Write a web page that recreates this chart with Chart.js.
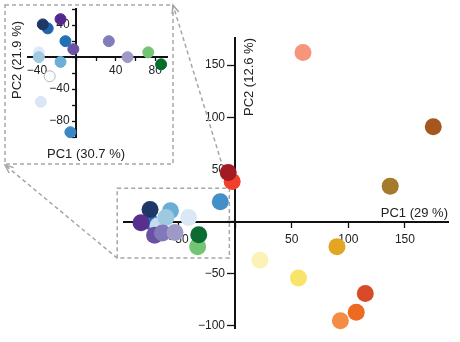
<!DOCTYPE html>
<html>
<head>
<meta charset="utf-8">
<script src="https://cdn.jsdelivr.net/npm/chart.js@4"></script>
<style>
  html, body { margin: 0; padding: 0; background: #fff; }
  #wrap { position: relative; width: 460px; height: 342px; }
  canvas { position: absolute; left: 0; top: 0; }
</style>
</head>
<body>
<div id="wrap">
  <canvas id="mainChart" width="460" height="342" style="width:460px;height:342px"></canvas>
  <canvas id="insetChart" width="180" height="170" style="width:180px;height:170px"></canvas>
</div>
<script>
// MAIN PCA - all samples (draw order = array order)
const mainPC1 = [60, 175, 137, -13, -2.5, -6, 90, 22, 56, 115, 107, 93,
  -75, -75, -83, -57, -68, -61, -41, -71, -64, -53, -33, -32];
const mainPC2 = [162, 91, 34, 19, 38.5, 47, -24, -37, -54, -69, -87, -95,
  0, 11.5, -1, 10.5, -4, 4, 4, -13, -11, -10.5, -24, -12.5];
const mainColors = ["#f6957b", "#a5571f", "#a57a2a", "#4390c8", "#f0402a", "#a31a22",
  "#e3a623", "#fbf2b8", "#f9e46a", "#d84b28", "#ec6a22", "#f58c45",
  "#2a6db2", "#1f3668", "#57308f", "#6aaed6", "#c6dbef", "#9ecae1", "#dae8f5",
  "#6b51a3", "#8179ba", "#9e9ac8", "#74c476", "#0b6b30"];

// INSET PCA - cluster only
const insetPC1 = [-29, -34, -16, -11, -3, 33, -38, -38, -16, -27, -36, -6, 52, 73, 86];
const insetPC2 = [36, 41, 47.5, 20, 10, 20, 6, 0, -6, -24, -56, -94, 0, 6, -9];
const insetColors = ["#1f63a8", "#1f3668", "#54278f", "#2171b5", "#6a51a3", "#807dba",
  "#deebf7", "#9ecae1", "#6baed6", "#fbfdff", "#d8e6f5", "#3a87c4", "#9e9ac8", "#74c476", "#006d2c"];
const insetBorders = insetColors.map(c => c === "#fbfdff" ? "#b8b8b8" : c);

// axis titles
const mainTitles = ["PC1 (29 %)", "PC2 (12.6 %)"];
const insetTitles = ["PC1 (30.7 %)", "PC2 (21.9 %)"];

// region of the main plot shown in the inset (PC1 / PC2 units)
const zoomBox = { pc1: [-104, -5], pc2: [-35, 32] };

Chart.defaults.font.family = '"Liberation Sans", Arial, sans-serif';
Chart.defaults.font.size = 12;
Chart.defaults.color = "#222";

function toPoints(xs, ys) {
  return xs.map((x, i) => ({ x: x, y: ys[i] }));
}

function fmt(every, pad) {
  return function (v) {
    if (v === 0 || v % every !== 0) return "";
    return String(v).replace("-", "\u2212") + pad;
  };
}

// axis crossing at the origin, ticks only, no grid
function crossAxis(min, max, step, label, cross, tickLen, pad) {
  return {
    type: "linear",
    min: min,
    max: max,
    position: cross,
    grid: { display: true, drawOnChartArea: false, drawTicks: true, tickLength: tickLen, tickColor: "#111", tickWidth: 1.3 },
    border: { display: true, color: "#111", width: 2 },
    ticks: { stepSize: step, includeBounds: false, autoSkip: false, maxRotation: 0, padding: pad, callback: label }
  };
}

const axisTitles = {
  id: "axisTitles",
  afterDraw(chart, args, opts) {
    const ctx = chart.ctx;
    ctx.save();
    ctx.font = '13px "Liberation Sans", Arial, sans-serif';
    ctx.fillStyle = "#222";
    opts.items.forEach(t => {
      ctx.save();
      ctx.translate(t.x, t.y);
      if (t.rotate) ctx.rotate(t.rotate);
      ctx.textAlign = t.align || "center";
      ctx.textBaseline = "middle";
      ctx.fillText(t.text, 0, 0);
      ctx.restore();
    });
    ctx.restore();
  }
};

function arrow(ctx, x0, y0, x1, y1) {
  ctx.setLineDash([4, 3]);
  ctx.beginPath();
  ctx.moveTo(x0, y0);
  ctx.lineTo(x1, y1);
  ctx.stroke();
  ctx.setLineDash([]);
  const a = Math.atan2(y1 - y0, x1 - x0);
  const len = 9;
  ctx.beginPath();
  ctx.moveTo(x1 - len * Math.cos(a - 0.4), y1 - len * Math.sin(a - 0.4));
  ctx.lineTo(x1, y1);
  ctx.lineTo(x1 - len * Math.cos(a + 0.4), y1 - len * Math.sin(a + 0.4));
  ctx.stroke();
}

// dashed zoom box, inset frame and connecting arrows
const zoomDecor = {
  id: "zoomDecor",
  beforeDatasetsDraw(chart) {
    const { ctx, scales } = chart;
    const l = scales.x.getPixelForValue(zoomBox.pc1[0]);
    const r = scales.x.getPixelForValue(zoomBox.pc1[1]);
    const t = scales.y.getPixelForValue(zoomBox.pc2[1]);
    const b = scales.y.getPixelForValue(zoomBox.pc2[0]);
    ctx.save();
    ctx.strokeStyle = "#a6a6a6";
    ctx.lineWidth = 1.5;
    ctx.setLineDash([4, 3]);
    ctx.strokeRect(l, t, r - l, b - t);
    ctx.strokeRect(5, 5, 168, 159);
    arrow(ctx, r, t, 173, 5);
    arrow(ctx, l, b, 5, 165);
    ctx.restore();
  }
};

new Chart(document.getElementById("mainChart"), {
  type: "scatter",
  data: {
    datasets: [{
      data: toPoints(mainPC1, mainPC2),
      backgroundColor: mainColors,
      borderColor: mainColors,
      borderWidth: 0,
      pointRadius: 8.5,
      pointHoverRadius: 8.5
    }]
  },
  plugins: [zoomDecor, axisTitles],
  options: {
    responsive: false,
    animation: false,
    events: [],
    clip: false,
    layout: { padding: { left: 124, right: 12, top: 38, bottom: 14 } },
    scales: {
      x: crossAxis(-98, 188, 50, fmt(50, ""), { y: 0 }, 5, 6),
      y: crossAxis(-102, 176, 50, fmt(50, "   "), { x: 0 }, 7, 2)
    },
    plugins: {
      legend: { display: false },
      tooltip: { enabled: false },
      axisTitles: {
        items: [
          { text: mainTitles[0], x: 448, y: 213, align: "right" },
          { text: mainTitles[1], x: 249, y: 38, align: "right", rotate: -Math.PI / 2 }
        ]
      }
    }
  }
});

new Chart(document.getElementById("insetChart"), {
  type: "scatter",
  data: {
    datasets: [{
      data: toPoints(insetPC1, insetPC2),
      backgroundColor: insetColors,
      borderColor: insetBorders,
      borderWidth: 1,
      pointRadius: 5.5,
      pointHoverRadius: 5.5
    }]
  },
  plugins: [axisTitles],
  options: {
    responsive: false,
    animation: false,
    events: [],
    clip: false,
    layout: { padding: { left: 28, right: 13, top: 9, bottom: 33 } },
    scales: {
      x: crossAxis(-49, 92, 20, fmt(40, ""), { y: 0 }, 3, 3),
      y: crossAxis(-100, 60, 20, fmt(40, "  "), { x: 0 }, 3, 2)
    },
    plugins: {
      legend: { display: false },
      tooltip: { enabled: false },
      axisTitles: {
        items: [
          { text: insetTitles[0], x: 86, y: 154 },
          { text: insetTitles[1], x: 17, y: 60, rotate: -Math.PI / 2 }
        ]
      }
    }
  }
});
</script>
</body>
</html>
